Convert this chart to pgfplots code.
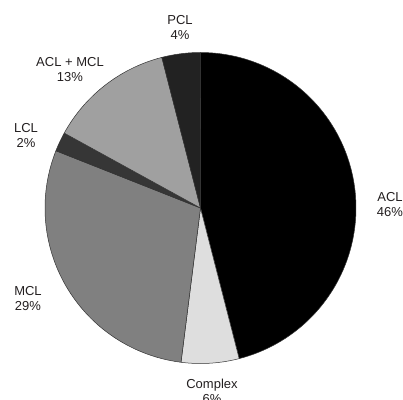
\documentclass[border=0pt]{standalone}
\usepackage{pgfplots}
\pgfplotsset{compat=1.18}
\usepackage{fontspec}
\setmainfont{Liberation Sans}
\definecolor{cACL}{HTML}{000000}
\definecolor{cComplex}{HTML}{DEDEDE}
\definecolor{cMCL}{HTML}{808080}
\definecolor{cLCL}{HTML}{363636}
\definecolor{cACLMCL}{HTML}{A0A0A0}
\definecolor{cPCL}{HTML}{222222}
\definecolor{txt}{HTML}{231F20}
% shares in percent, clockwise from the top
\def\pACL{46}
\def\pComplex{6}
\def\pMCL{29}
\def\pLCL{2}
\def\pACLMCL{13}
\def\pPCL{4}
\def\cx{200.5}
\def\cy{208}
\def\R{155.5}
\pgfmathsetmacro\aA{90}
\pgfmathsetmacro\aB{\aA-3.6*\pACL}
\pgfmathsetmacro\aC{\aB-3.6*\pComplex}
\pgfmathsetmacro\aD{\aC-3.6*\pMCL}
\pgfmathsetmacro\aE{\aD-3.6*\pLCL}
\pgfmathsetmacro\aF{\aE-3.6*\pACLMCL}
\pgfmathsetmacro\aG{\aF-3.6*\pPCL}
\newcommand\wedgeplot[3]{%
  \addplot[draw=black!80, line width=0.5pt, line join=round, fill=#3,
    domain=#1:#2, samples=90, variable=\t]
    ({\cx+\R*cos(t)},{\cy-\R*sin(t)}) -- (axis cs:\cx,\cy) -- cycle;}
\begin{document}
\begin{tikzpicture}
\begin{axis}[
  at={(0,0)}, anchor=south west,
  scale only axis, width=403bp, height=400bp,
  xmin=0, xmax=403, ymin=0, ymax=400, y dir=reverse,
  hide axis, clip=false]
\wedgeplot{\aB}{\aA}{cACL}
\wedgeplot{\aC}{\aB}{cComplex}
\wedgeplot{\aD}{\aC}{cMCL}
\wedgeplot{\aE}{\aD}{cLCL}
\wedgeplot{\aF}{\aE}{cACLMCL}
\wedgeplot{\aG}{\aF}{cPCL}
\begin{scope}[every node/.style={align=center, text=txt, inner sep=0pt,
    font=\fontsize{13bp}{15bp}\selectfont}]
\node at (axis cs:180,27.5) {PCL\\4\%};
\node at (axis cs:70,70) {ACL + MCL\\13\%};
\node at (axis cs:26,135) {LCL\\2\%};
\node at (axis cs:28,299) {MCL\\29\%};
\node at (axis cs:390,205) {ACL\\46\%};
\node at (axis cs:212,391) {Complex\\6\%};
\end{scope}
\end{axis}
\pgfresetboundingbox
\path (current axis.south west) rectangle (current axis.north east);
\end{tikzpicture}
\end{document}
